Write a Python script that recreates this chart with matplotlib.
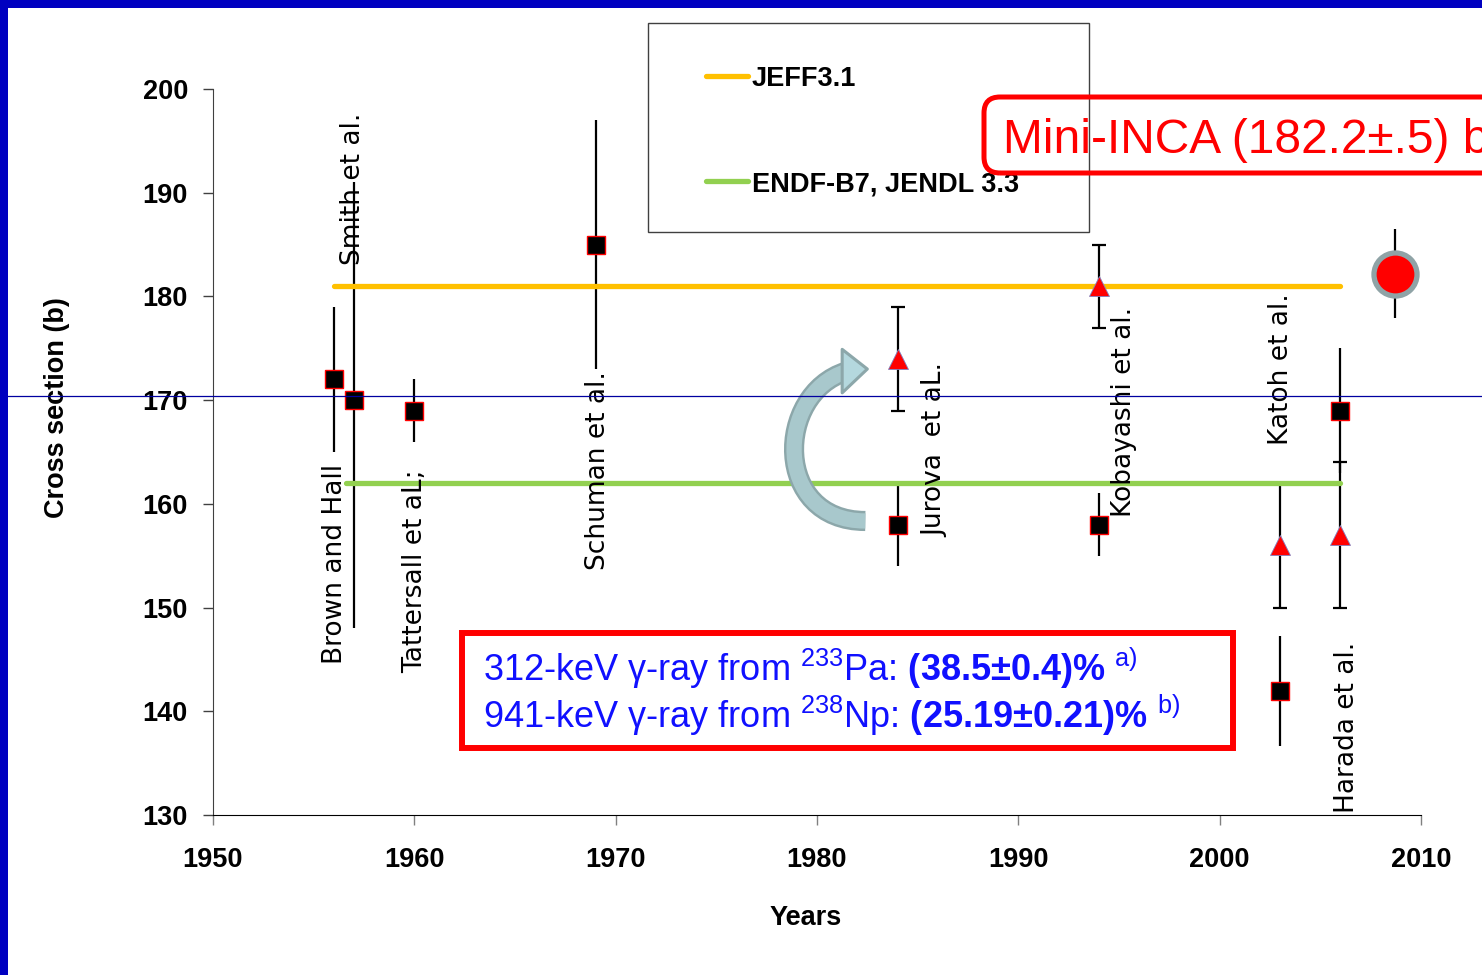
import matplotlib.pyplot as plt
import matplotlib.patheffects as pe
from matplotlib.patches import Rectangle, PathPatch, Polygon, FancyBboxPatch
from matplotlib.lines import Line2D
from matplotlib.path import Path
from matplotlib.transforms import IdentityTransform

plt.rcParams['font.family'] = ['Liberation Sans', 'DejaVu Sans']
plt.rcParams['mathtext.fontset'] = 'custom'
plt.rcParams['mathtext.rm'] = 'Liberation Sans'
plt.rcParams['mathtext.bf'] = 'Liberation Sans:bold'

# measurements shown as black squares
years_sq = [1956, 1957, 1960, 1969, 1984, 1994, 2003, 2006]
sigma_sq = [172, 170, 169, 185, 158, 158, 142, 169]
err_sq_lo = [7, 22, 3, 12, 4, 3, 5.3, 6]
err_sq_hi = [7, 21, 3, 12, 4, 3, 5.3, 6]

# measurements shown as red triangles
years_tri = [1984, 1994, 2003, 2006]
sigma_tri = [174, 181, 156, 157]
err_tri = [5, 4, 6, 7]

# Mini-INCA result
mini_year = 2008.7
mini_sigma = 182.2
mini_err = 4.3

# evaluated data libraries
jeff_val = 181
jeff_span = [1956, 2006]
endf_val = 162
endf_span = [1956.6, 2006]

authors = ["Brown and Hall", "Smith et al.", "Tattersall et aL;", "Schuman et al.",
           "Jurova  et aL.", "Kobayashi et al.", "Katoh et al.", "Harada et al."]
author_xy = [(1956.05, 144.6), (1956.95, 183.0), (1960.05, 143.7), (1969.1, 153.6),
             (1985.9, 156.8), (1995.25, 158.7), (2003.05, 165.7), (2006.3, 130.2)]

W, H = 1482, 975
fig = plt.figure(figsize=(W / 100, H / 100), dpi=100)
ax = fig.add_axes([213 / W, 1 - 815 / H, 1208 / W, 726 / H])
ax.set_xlim(1950, 2010)
ax.set_ylim(130, 200)

# error bars
ax.errorbar(years_sq, sigma_sq, yerr=[err_sq_lo, err_sq_hi], fmt='none',
            ecolor='black', elinewidth=1.6, capsize=0, zorder=2)
ax.errorbar(years_tri, sigma_tri, yerr=err_tri, fmt='none',
            ecolor='black', elinewidth=1.6, capsize=5, capthick=1.6, zorder=2)
ax.errorbar([mini_year], [mini_sigma], yerr=mini_err, fmt='none',
            ecolor='black', elinewidth=1.6, capsize=0, zorder=2)

# JEFF / ENDF lines
ax.plot(jeff_span, [jeff_val, jeff_val], color='#FFC000', lw=3.8,
        solid_capstyle='round', zorder=3)
ax.plot(endf_span, [endf_val, endf_val], color='#92D050', lw=3.8,
        solid_capstyle='round', zorder=3)

ax.plot(years_sq, sigma_sq, 's', ms=13.5, mfc='black', mec='red', mew=1.0, zorder=4)
ax.plot(years_tri, sigma_tri, '^', ms=15, mfc='red', mec='#8080C0', mew=0.6, zorder=4)
ax.plot([mini_year], [mini_sigma], 'o', ms=31, mfc='red', mec='#8FA3A6', mew=3.8, zorder=5)

for name, (x, y) in zip(authors, author_xy):
    ax.text(x, y, name, rotation=90, ha='center', va='bottom', fontsize=19,
            family=['DejaVu Sans'], zorder=3)

# curved arrow: C shape from the squares up to the triangles
arc = Path([(1982.4, 158.35), (1977.8, 158.35), (1977.9, 170.6), (1981.45, 172.75)],
           [Path.MOVETO, Path.CURVE4, Path.CURVE4, Path.CURVE4])
ax.add_patch(PathPatch(arc, fc='none', ec='#A8C8CC', lw=11, capstyle='butt', zorder=3,
                       path_effects=[pe.Stroke(linewidth=14.5, foreground='#8CA7AA',
                                               capstyle='butt'), pe.Normal()]))
ax.add_patch(Polygon([(1981.25, 174.9), (1982.5, 173.0), (1981.25, 170.7)], closed=True,
                     fc='#B4D8DE', ec='#8CA7AA', lw=2.2, joinstyle='round', zorder=3))

for s in ['top', 'right']:
    ax.spines[s].set_visible(False)
ax.spines['left'].set_color('#404040')
ax.spines['bottom'].set_color('black')
ax.set_xticks(range(1950, 2011, 10))
ax.set_yticks(range(130, 201, 10))
ax.tick_params(axis='y', length=7, width=1, pad=11, labelsize=19.5, color='#404040')
ax.tick_params(axis='x', length=7, width=1, pad=16, labelsize=19.5, color='#808080')
for lab in ax.get_xticklabels() + ax.get_yticklabels():
    lab.set_fontweight('bold')

ax.set_xlabel('Years', fontsize=19.5, fontweight='bold')
ax.xaxis.set_label_coords((806 - 213) / 1208, (815 - 905) / 726)
ax.xaxis.label.set_va('top')
ax.set_ylabel('Cross section (b)', fontsize=19.5, fontweight='bold')
ax.yaxis.set_label_coords((70 - 213) / 1208, (815 - 408) / 726)

# legend box
fig.add_artist(Rectangle((648 / W, 1 - 232 / H), 441 / W, 209 / H, transform=fig.transFigure,
                         fc='white', ec='#404040', lw=1.0, zorder=6))
for yy, col, lab in [(76, '#FFC000', 'JEFF3.1'), (181, '#92D050', 'ENDF-B7, JENDL 3.3')]:
    fig.add_artist(Line2D([706 / W, 748 / W], [1 - yy / H, 1 - yy / H], transform=fig.transFigure,
                          color=col, lw=3.8, solid_capstyle='round', zorder=7))
    fig.text(752 / W, 1 - yy / H, lab, fontsize=19.5, fontweight='bold', va='center_baseline',
             zorder=7)

# Mini-INCA label (runs off the right edge), rounded frame in pixel units
fig.add_artist(FancyBboxPatch((984, H - 173), 600, 76, boxstyle='round,pad=0,rounding_size=16',
                              transform=IdentityTransform(), fc='none', ec='#FF0000',
                              lw=3.6, zorder=8))
fig.text(1003 / W, 1 - 153 / H, 'Mini-INCA (182.2\u00b1.5) b', fontsize=34.5, color='#FF0000',
         va='baseline', zorder=8)

# branching ratio box
fig.add_artist(Rectangle((462 / W, 1 - 748 / H), 771 / W, 115 / H, transform=fig.transFigure,
                         fc='white', ec='#FF0000', lw=4.3, zorder=6))
fig.text(483 / W, 1 - 681 / H,
         r'312-keV γ-ray from $^{233}$Pa: $\mathbf{(38.5{\pm}0.4)\%}$ $^{\mathrm{a)}}$',
         fontsize=26, color='#1010FF', va='baseline', zorder=7)
fig.text(483 / W, 1 - 728 / H,
         r'941-keV γ-ray from $^{238}$Np: $\mathbf{(25.19{\pm}0.21)\%}$ $^{\mathrm{b)}}$',
         fontsize=26, color='#1010FF', va='baseline', zorder=7)

# slide frame and guide line
fig.add_artist(Rectangle((0, 1 - 8 / H), 1, 8 / H, transform=fig.transFigure,
                         fc='#0000C0', ec='none', zorder=10))
fig.add_artist(Rectangle((0, 0), 8 / W, 1, transform=fig.transFigure,
                         fc='#0000C0', ec='none', zorder=10))
fig.add_artist(Line2D([8 / W, 1], [1 - 395.5 / H, 1 - 395.5 / H], transform=fig.transFigure,
                      color='#0000A0', lw=0.9, zorder=9))

fig.savefig('out.png', dpi=100)
